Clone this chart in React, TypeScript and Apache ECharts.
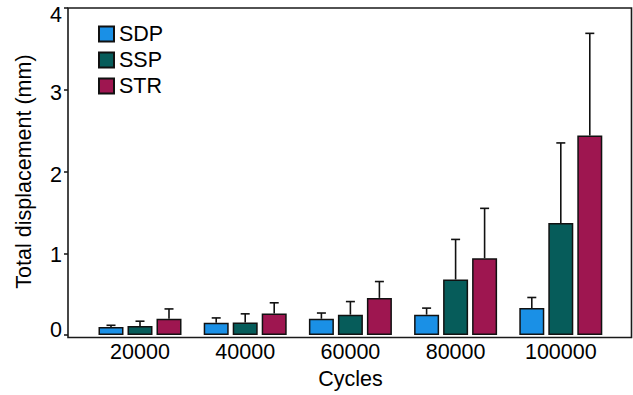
import React, { useEffect, useRef } from "react";
import * as echarts from "echarts";

const categories = ["20000", "40000", "60000", "80000", "100000"];
const seriesNames = ["SDP", "SSP", "STR"];
const sdpMean = [0.10, 0.15, 0.20, 0.25, 0.33];
const sdpErr = [0.02, 0.06, 0.07, 0.08, 0.13];
const sspMean = [0.11, 0.155, 0.25, 0.68, 1.37];
const sspErr = [0.06, 0.105, 0.16, 0.49, 0.98];
const strMean = [0.20, 0.265, 0.455, 0.94, 2.44];
const strErr = [0.12, 0.13, 0.20, 0.61, 1.25];
const yTicks = [0, 1, 2, 3, 4];

const colors = ["#1a90e6", "#065c5a", "#9e1650"];
const FONT = "'Liberation Sans', Arial, sans-serif";
const FS = 21.5;
const BAR_W = 25;
const GAP = 4;

export default function App() {
  const ref = useRef<HTMLDivElement>(null);
  useEffect(() => {
    if (!ref.current) return;
    const chart = echarts.init(ref.current, null, { renderer: "svg" });
    const means = [sdpMean, sspMean, strMean];
    const errs = [sdpErr, sspErr, strErr];
    const offsets = [-(BAR_W + GAP), 0, BAR_W + GAP];

    const gridLeft = 87.4;
    const gridTop = 8;
    const gridBottom = 57.5;
    const gridRight = 633 - gridLeft - 526;

    const barSeries = seriesNames.map((name, i) => ({
      name,
      type: "bar",
      data: means[i],
      barWidth: BAR_W,
      barGap: (GAP / BAR_W) * 100 + "%",
      itemStyle: { color: colors[i], borderColor: "#111", borderWidth: 1.5 },
      z: 2,
    }));

    const errSeries = seriesNames.map((name, i) => ({
      name: name + "_err",
      type: "custom",
      data: categories.map((_, j) => [j, means[i][j], errs[i][j]]),
      z: 3,
      renderItem: (params: any, api: any) => {
        const x = api.value(0);
        const m = api.value(1);
        const e = api.value(2);
        const base = api.coord([x, m]);
        const top = api.coord([x, m + e]);
        const cx = base[0] + offsets[i];
        const style = { stroke: "#111", lineWidth: 1.6, fill: null };
        return {
          type: "group",
          children: [
            { type: "line", shape: { x1: cx, y1: base[1], x2: cx, y2: top[1] }, style },
            { type: "line", shape: { x1: cx - 4.5, y1: top[1], x2: cx + 4.5, y2: top[1] }, style },
          ],
        };
      },
    }));

    const labelShift: Record<string, string> = { "0": "up", "1": "d1", "2": "d2", "3": "d2", "4": "d4" };
    const richBase = { fontSize: FS, color: "#000", fontFamily: FONT };

    chart.setOption({
      animation: false,
      textStyle: { fontFamily: FONT },
      grid: { left: gridLeft, right: gridRight, top: gridTop, bottom: gridBottom },
      legend: {
        data: seriesNames,
        orient: "vertical",
        left: 93,
        top: 18,
        itemWidth: 15,
        itemHeight: 15,
        itemGap: 4,
        icon: "rect",
        textStyle: { fontSize: FS, color: "#000", fontFamily: FONT },
      },
      xAxis: {
        type: "category",
        data: categories,
        axisLine: { show: false },
        axisTick: { show: false },
        axisLabel: { fontSize: FS, color: "#000", margin: 6, fontFamily: FONT },
        name: "Cycles",
        nameLocation: "middle",
        nameGap: 31,
        nameTextStyle: { fontSize: FS, color: "#000", fontFamily: FONT },
      },
      yAxis: {
        type: "value",
        min: 0,
        max: 4,
        interval: 1,
        offset: gridLeft - 68,
        axisLine: { show: false },
        axisTick: { show: true, length: 4, lineStyle: { color: "#111", width: 1.5 } },
        splitLine: { show: false },
        axisLabel: {
          fontSize: FS,
          color: "#000",
          margin: 6,
          fontFamily: FONT,
          formatter: (v: number) => {
            const s = String(v);
            if (!yTicks.includes(v)) return "";
            return "{" + labelShift[s] + "|" + s + "}";
          },
          rich: {
            up: { ...richBase, padding: [0, 0, 10, 0] },
            d1: { ...richBase, padding: [3, 0, 0, 0] },
            d2: { ...richBase, padding: [6, 0, 0, 0] },
            d4: { ...richBase, padding: [14, 0, 0, 0] },
          },
        },
        name: "Total displacement (mm)",
        nameLocation: "middle",
        nameGap: 33,
        nameTextStyle: { fontSize: FS, color: "#000", fontFamily: FONT },
      },
      graphic: [
        {
          type: "rect",
          shape: { x: 68, y: 8, width: 563.5, height: 329.5 },
          style: { fill: "none", stroke: "#1a1a1a", lineWidth: 1.6 },
          z: 10,
          silent: true,
        },
      ],
      series: [...barSeries, ...errSeries],
    });
    return () => chart.dispose();
  }, []);
  return <div ref={ref} style={{ width: 633, height: 395, position: "absolute", left: 0, top: 0 }} />;
}
